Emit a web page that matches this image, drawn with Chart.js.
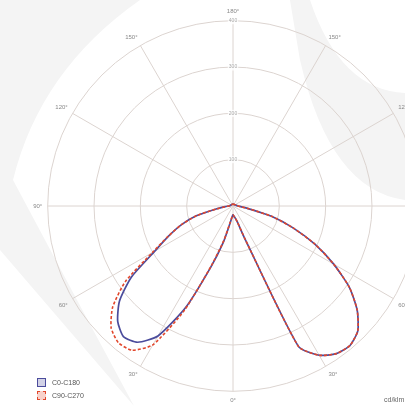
<!DOCTYPE html>
<html>
<head>
<meta charset="utf-8">
<script src="https://cdn.jsdelivr.net/npm/chart.js@4.4.1/dist/chart.umd.min.js"></script>
<style>
  html, body { margin: 0; padding: 0; background: #fff; overflow: hidden; }
  #wrap { position: absolute; left: 0; top: 0; width: 466px; height: 412px; }
  #legend { position: absolute; left: 37px; top: 378px; font-family: "Liberation Sans", Arial, sans-serif; font-size: 7px; color: #555; }
  #legend .item { height: 13px; line-height: 9px; }
  #legend .box { display: inline-block; width: 7px; height: 7px; vertical-align: top; margin-right: 6px; }
  #unit { position: absolute; left: 384px; top: 396px; font-family: "Liberation Sans", Arial, sans-serif; font-size: 7px; color: #666; }
</style>
</head>
<body>
<div id="wrap"><canvas id="polar"></canvas></div>
<div id="legend"></div>
<div id="unit">cd/klm</div>
<script>
// gamma angles 0..180 (deg)
var gammas = [0,5,10,15,20,25,30,35,40,45,50,55,60,65,70,75,80,85,90,
    95,100,105,110,115,120,125,130,135,140,145,150,155,160,165,170,175,180];

// intensities, cd/klm
var c0 = [19,22,26,35,76,335,372,389,393,381,350,307,251,195,138,86,35,17,11,
    9,7,7,6,6,5,5,5,4,4,4,4,4,4,4,4,4,4];
var c180 = [19,24,39,82,141,242,324,359,368,352,320,268,195,153,119,82,37,17,9,
    7,6,6,5,5,5,4,4,4,4,4,4,4,4,4,4,4,4];
var c90 = [19,22,26,35,76,335,372,389,393,381,350,307,251,195,138,86,35,17,11,
    9,7,7,6,6,5,5,5,4,4,4,4,4,4,4,4,4,4];
var c270 = [19,24,37,78,138,249,346,380,385,372,339,283,201,154,119,82,37,17,9,
    7,6,6,5,5,5,4,4,4,4,4,4,4,4,4,4,4,4];

var ringTicks = [100,200,300,400];
var seriesNames = ['C0-C180','C90-C270'];
var blue = '#4b4c9c';
var red = '#e2462b';
var gridColor = '#dcd4d0';

// index 0 at the top (gamma 180), clockwise: right half is C0/C90, left half C180/C270
function buildLine(right, left) {
    var out = [];
    for (var i = 0; i < 72; i++) {
        if (i <= 36) out.push(right[36 - i]);
        else out.push(left[i - 36]);
    }
    return out;
}
var labels = [];
for (var i = 0; i < 72; i++) {
    var g = i <= 36 ? gammas[36 - i] : gammas[i - 36];
    labels.push(g % 30 === 0 ? g + '°' : '');
}

// faint logo in the background
var watermark = {
    id: 'watermark',
    beforeDraw: function(chart) {
        var ctx = chart.ctx;
        ctx.save();
        ctx.fillStyle = '#f4f4f4';
        ctx.beginPath();
        ctx.moveTo(0, 0);
        ctx.lineTo(140, 0);
        ctx.quadraticCurveTo(40, 70, 13, 180);
        ctx.lineTo(77, 300);
        ctx.lineTo(134, 406);
        ctx.lineTo(0, 250);
        ctx.closePath();
        ctx.fill();
        ctx.beginPath();
        ctx.moveTo(310, 0);
        ctx.quadraticCurveTo(340, 90, 405, 93);
        ctx.lineTo(405, 200);
        ctx.quadraticCurveTo(330, 190, 300, 60);
        ctx.lineTo(290, 0);
        ctx.closePath();
        ctx.fill();
        ctx.restore();
    }
};

var chart = new Chart(document.getElementById('polar'), {
    type: 'radar',
    data: {
        labels: labels,
        datasets: [{
            label: seriesNames[1],
            data: buildLine(c90, c270),
            borderColor: red,
            backgroundColor: 'rgba(226,70,43,0.25)',
            borderWidth: 1.6,
            borderDash: [3, 2],
            fill: false,
            pointRadius: 0,
            tension: 0.2
        }, {
            label: seriesNames[0],
            data: buildLine(c0, c180),
            borderColor: blue,
            backgroundColor: 'rgba(75,76,156,0.25)',
            borderWidth: 1.7,
            fill: false,
            pointRadius: 0,
            tension: 0.2
        }]
    },
    options: {
        responsive: true,
        maintainAspectRatio: false,
        animation: false,
        layout: { padding: 8 },
        plugins: {
            legend: { display: false },
            tooltip: { enabled: false }
        },
        scales: {
            r: {
                min: 0,
                max: 400,
                startAngle: 0,
                afterBuildTicks: function(scale) {
                    scale.ticks = [{value: 0}].concat(ringTicks.map(function(v) { return {value: v}; }));
                },
                ticks: {
                    color: '#aaa',
                    font: { family: 'Liberation Sans', size: 5 },
                    backdropColor: 'rgba(255,255,255,0.8)',
                    backdropPadding: 1
                },
                grid: { circular: true, color: gridColor, lineWidth: 1 },
                angleLines: {
                    color: gridColor,
                    lineWidth: function(ctx) { return ctx.index % 6 === 0 ? 1 : 0; }
                },
                pointLabels: {
                    color: '#888',
                    font: { family: 'Liberation Sans', size: 6 },
                    padding: 2
                }
            }
        }
    },
    plugins: [watermark]
});

// html legend from the datasets
var legendEl = document.getElementById('legend');
[1, 0].forEach(function(k) {
    var ds = chart.data.datasets[k];
    var item = document.createElement('div');
    item.className = 'item';
    var box = document.createElement('span');
    box.className = 'box';
    box.style.background = ds.backgroundColor;
    box.style.border = '1px ' + (ds.borderDash ? 'dashed ' : 'solid ') + ds.borderColor;
    item.appendChild(box);
    item.appendChild(document.createTextNode(ds.label));
    legendEl.appendChild(item);
});
</script>
</body>
</html>
